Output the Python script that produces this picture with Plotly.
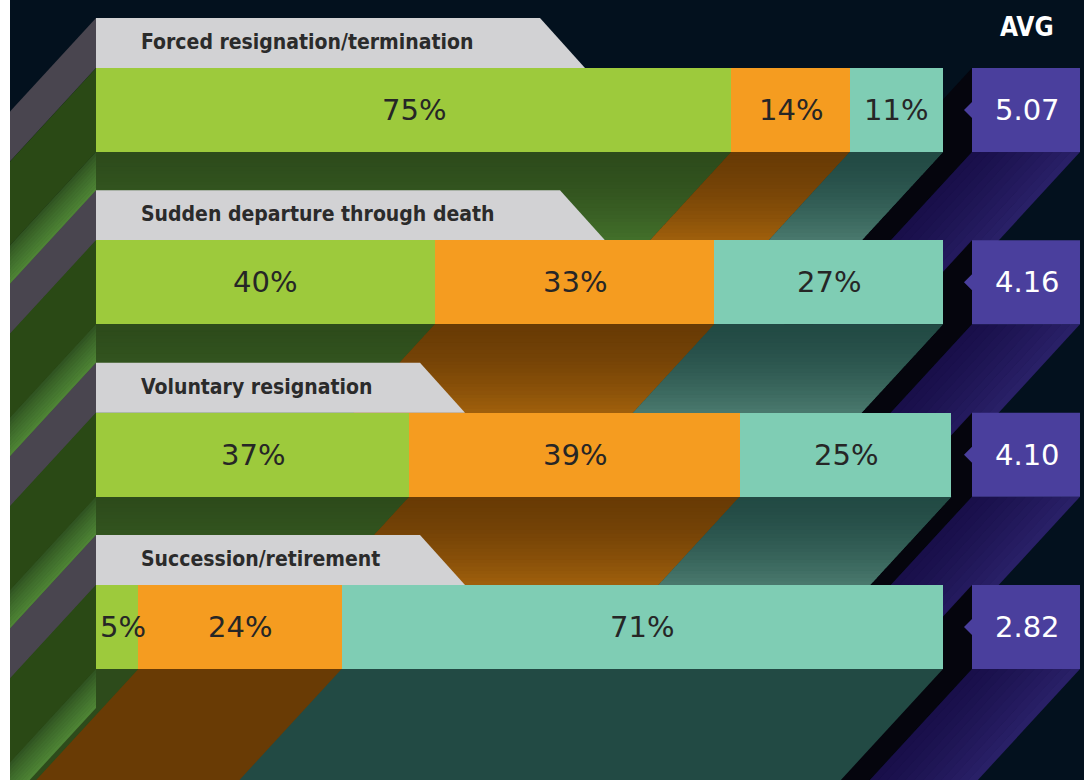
import plotly.graph_objects as go

# ---------------- data ----------------
categories = [
    "Forced resignation/termination",
    "Sudden departure through death",
    "Voluntary resignation",
    "Succession/retirement",
]
green_pct = [75, 40, 37, 5]
orange_pct = [14, 33, 39, 24]
teal_pct = [11, 27, 25, 71]
avg_scores = [5.07, 4.16, 4.10, 2.82]
avg_header = "AVG"

# ---------------- style / layout (pixels) ----------------
W, H = 1084, 780
LEFT_WHITE = 10
X0_PX, X100_PX = 96, 943
ROW0_TOP = 68
ROW_STEP = 172.33
BAR_H = 84
TAB_H = 50
BOX_L, BOX_R = 972, 1080
K = 0.92            # diagonal extrusion slope (x shift per y)
L = 1200            # extrusion length
TAB_RIGHT = [585, 605, 465, 465]
TAB_SLANT = 45

NAVY = "#03111e"
SEG_COLORS = ["#9dca3c", "#f59c20", "#7fcdb4"]
SH_DARK = ["#2d4b1b", "#693b05", "#224a44"]
SH_LIT = ["#43702b", "#a0600c", "#4a7a6e"]
TAB_COLOR = "#d2d2d4"
BOX_COLOR = "#4a3f9d"
PURPLE_DARK, PURPLE_LIT = "#190f4a", "#2a2169"
BLACK = "#05050d"
TAB_FACE = "#49454f"
BAR_FACE = "#2a4915"
GAP_FACE_DARK, GAP_FACE_LIT = "#2e5020", "#4f8636"
LABEL_DARK = "#262626"

PXU = (X100_PX - X0_PX) / 100.0


def xd(px):
    return (px - X0_PX) / PXU


def yd(py):
    return (py - (ROW0_TOP + BAR_H / 2)) / ROW_STEP


def mix(c1, c2, t):
    a = [int(c1[i:i + 2], 16) for i in (1, 3, 5)]
    b = [int(c2[i:i + 2], 16) for i in (1, 3, 5)]
    return "#" + "".join(f"{round(a[i] + (b[i] - a[i]) * t):02x}" for i in range(3))


shapes = []


def poly(pts, color):
    d = "M " + " L ".join(f"{xd(x):.4f},{yd(y):.4f}" for x, y in pts) + " Z"
    shapes.append(dict(type="path", path=d, xref="x", yref="y", fillcolor=color,
                       line=dict(width=0), layer="below"))


def hsweep(x0, x1, yb, a, b, color):
    poly([(x0 - K * a, yb + a), (x1 - K * a, yb + a), (x1 - K * b, yb + b), (x0 - K * b, yb + b)], color)


def vsweep(xe, y0, y1, color):
    poly([(xe, y0), (xe, y1), (xe - K * L, y1 + L), (xe - K * L, y0 + L)], color)


series = [green_pct, orange_pct, teal_pct]
n_rows = len(categories)

gap = ROW_STEP - BAR_H
gap_to_tab = gap - TAB_H

annotations = []
LABEL_FONT = dict(family="DejaVu Sans", size=29, color=LABEL_DARK)

for i in range(n_rows):
    bt = ROW0_TOP + i * ROW_STEP
    bb = bt + BAR_H
    tt = bt - TAB_H
    cum = [0]
    for s in series:
        cum.append(cum[-1] + s[i])
    bounds = [X0_PX + c * PXU for c in cum]

    # green bottom extrusion
    hsweep(bounds[0], bounds[1], bb, 0, L, SH_DARK[0])
    # faces on the left wall
    vsweep(X0_PX, tt, bt, TAB_FACE)
    vsweep(X0_PX, bt, bb, BAR_FACE)
    n = 10
    for j in range(n):
        t = (j + 0.5) / n
        vsweep(X0_PX, bb + j * gap_to_tab / n, bb + (j + 1) * gap_to_tab / n + 0.6,
               mix(GAP_FACE_DARK, GAP_FACE_LIT, t ** 0.8))
    # box left face
    vsweep(BOX_L, bt, bb, BLACK)
    # orange, teal extrusions
    hsweep(bounds[1], bounds[2], bb, 0, L, SH_DARK[1])
    hsweep(bounds[2], bounds[3], bb, 0, L, SH_DARK[2])
    # purple extrusion (horizontal gradient)
    np_ = 12
    for j in range(np_):
        t = ((j + 0.5) / np_) ** 1.3
        hsweep(BOX_L + (BOX_R - BOX_L) * j / np_ - (0.6 if j else 0),
               BOX_L + (BOX_R - BOX_L) * (j + 1) / np_, bb, 0, L, mix(PURPLE_DARK, PURPLE_LIT, t))
    # vertical light gradient inside the gap band
    if i < n_rows - 1:
        ng = 24
        for j in range(ng):
            a = j * gap / ng
            b = (j + 1) * gap / ng + 0.6
            t = ((j + 0.5) / ng) ** 1.6
            poly([(X0_PX, bb + a), (bounds[1] - K * a, bb + a), (bounds[1] - K * b, bb + b), (X0_PX, bb + b)],
                 mix(SH_DARK[0], SH_LIT[0], t))
            for sidx in (1, 2):
                hsweep(bounds[sidx], bounds[sidx + 1], bb, a, b, mix(SH_DARK[sidx], SH_LIT[sidx], t))

    # labels inside segments
    for sidx in range(3):
        x0p, x1p = bounds[sidx], bounds[sidx + 1]
        txt = f"{series[sidx][i]}%"
        if x1p - x0p < 60:
            annotations.append(dict(x=xd(x0p + 2), y=i, xref="x", yref="y", text=txt, showarrow=False,
                                    xanchor="left", yanchor="middle", font=LABEL_FONT))
        else:
            annotations.append(dict(x=xd((x0p + x1p) / 2), y=i, xref="x", yref="y", text=txt, showarrow=False,
                                    xanchor="center", yanchor="middle", font=LABEL_FONT))

# tabs and boxes on top of extrusions
for i in range(n_rows):
    bt = ROW0_TOP + i * ROW_STEP
    bb = bt + BAR_H
    tt = bt - TAB_H
    poly([(X0_PX, tt), (TAB_RIGHT[i] - TAB_SLANT, tt), (TAB_RIGHT[i], bt), (X0_PX, bt)], TAB_COLOR)
    poly([(BOX_L, bt), (BOX_R, bt), (BOX_R, bb), (BOX_L, bb)], BOX_COLOR)
    yc = (bt + bb) / 2
    poly([(BOX_L + 1, yc - 9), (BOX_L - 8, yc), (BOX_L + 1, yc + 9)], BOX_COLOR)
    annotations.append(dict(x=xd(139), y=yd(tt + TAB_H / 2 - 1), xref="x", yref="y", text=categories[i],
                            showarrow=False, xanchor="left", yanchor="middle",
                            font=dict(family="DejaVu Sans Condensed, DejaVu Sans", size=21,
                                      color="#2b2b2b", weight="bold")))
    annotations.append(dict(x=xd((BOX_L + BOX_R) / 2 + 1), y=i, xref="x", yref="y",
                            text=f"{avg_scores[i]:.2f}", showarrow=False, xanchor="center", yanchor="middle",
                            font=dict(family="DejaVu Sans", size=29, color="#ffffff")))

annotations.append(dict(x=xd((BOX_L + BOX_R) / 2 + 1), y=yd(27), xref="x", yref="y", text=avg_header,
                        showarrow=False, xanchor="center", yanchor="middle",
                        font=dict(family="DejaVu Sans Condensed, DejaVu Sans", size=26,
                                  color="#ffffff", weight="bold")))

fig = go.Figure()
for sidx, name in enumerate(["Green", "Orange", "Teal"]):
    fig.add_trace(go.Bar(
        y=list(range(n_rows)), x=series[sidx], orientation="h", name=name,
        marker=dict(color=SEG_COLORS[sidx], line=dict(width=0)),
        width=BAR_H / ROW_STEP, hoverinfo="skip", showlegend=False,
    ))

fig.update_layout(
    width=W, height=H, barmode="stack",
    margin=dict(l=LEFT_WHITE, r=0, t=0, b=0),
    paper_bgcolor="#ffffff", plot_bgcolor=NAVY,
    xaxis=dict(range=[xd(LEFT_WHITE), xd(W)], visible=False, fixedrange=True),
    yaxis=dict(range=[yd(H), yd(0)], visible=False, fixedrange=True),
    shapes=shapes, annotations=annotations, bargap=0,
)

fig.write_html("out.html")
